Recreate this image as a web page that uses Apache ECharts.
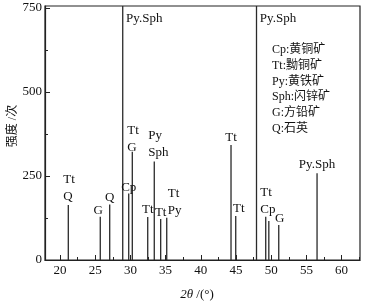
<!DOCTYPE html>
<html>
<head>
<meta charset="utf-8">
<script src="https://cdn.jsdelivr.net/npm/echarts@6/dist/echarts.min.js"></script>
<style>html,body{margin:0;padding:0;background:#fff;}#c{width:368px;height:302px;}</style>
</head>
<body>
<div id="c"></div>
<script>
// ---- data ----
const peakAngles = [21.18, 25.72, 27.06, 28.91, 29.76, 30.27, 32.46, 33.39, 34.30, 35.16, 44.29, 44.96, 47.91, 49.22, 49.66, 51.07, 56.51];
const peakIntensity = [164, 129, 165, 756, 198, 322, 128, 293, 122, 126, 342, 131, 756, 129, 116, 104, 258];
const peakLabels = ['Tt\nQ', 'G', 'Q', 'Py.Sph', 'Cp', 'Tt\nG', 'Tt', 'Py\nSph', 'Tt', 'Tt\nPy', 'Tt', 'Tt', 'Py.Sph', 'Tt\nCp', '', 'G', 'Py.Sph'];
const xMajorTicks = [20, 25, 30, 35, 40, 45, 50, 55, 60];
const xMinorTicks = [22.5, 27.5, 32.5, 37.5, 42.5, 47.5, 52.5, 57.5, 62.5];
const yMajorTicks = [0, 250, 500, 750];
const yMinorTicks = [125, 375, 625];
const legendLines = ['Cp:黄铜矿', 'Tt:黝铜矿', 'Py:黄铁矿', 'Sph:闪锌矿', 'G:方铅矿', 'Q:石英'];
const yName = '强度 /次';
const xNameItalic = '2θ';
const xNameRest = ' /(°)';

// ---- styling (separate from data) ----
const FONT = "'Liberation Serif', 'Noto Sans CJK SC', serif";
const INK = '#222';
// per-label placement tweaks: [offsetX, distance, align, position]
const labelTweaks = [
  [-5, 0, 'left', 'top'],
  [-2, -2, 'center', 'top'],
  [0, -2, 'center', 'top'],
  [0, 4, 'left', 'insideTopLeft'],
  [0, -3, 'center', 'top'],
  [-5, -4, 'left', 'top'],
  [0, -1, 'center', 'top'],
  [-6, 0, 'left', 'top'],
  [0, -2, 'center', 'top'],
  [1, -1.5, 'left', 'top'],
  [0, -1, 'center', 'top'],
  [3, -1.5, 'center', 'top'],
  [0, 4, 'left', 'insideTopLeft'],
  [-5.5, -1, 'left', 'top'],
  [0, 0, 'center', 'top'],
  [1, -2, 'center', 'top'],
  [0, 0, 'center', 'top']
];

const seriesData = peakAngles.map((a, i) => {
  const t = labelTweaks[i];
  return {
    value: [a, peakIntensity[i]],
    label: {
      show: peakLabels[i] !== '',
      formatter: peakLabels[i],
      position: t[3],
      distance: t[1],
      offset: [t[0], 0],
      align: t[2]
    }
  };
});

const chart = echarts.init(document.getElementById('c'), null, {renderer: 'canvas'});
const XMIN = 17.87, XMAX = 62.61, YMIN = 0, YMAX = 756;
const option = {
  animation: false,
  backgroundColor: '#fff',
  grid: {left: 45, right: 8, top: 6, bottom: 42, show: true, borderColor: INK, borderWidth: 1.2, backgroundColor: 'transparent', containLabel: false, outerBoundsMode: 'none'},
  xAxis: [{
    type: 'value', min: XMIN, max: XMAX,
    axisLine: {show: true, onZero: false, lineStyle: {color: INK, width: 1.2}},
    splitLine: {show: false},
    axisTick: {show: true, inside: true, length: 5, customValues: xMajorTicks, lineStyle: {color: INK, width: 1}},
    axisLabel: {customValues: xMajorTicks, fontSize: 13, fontFamily: FONT, color: '#111', margin: 4},
    name: '{i|' + xNameItalic + '}' + xNameRest,
    nameLocation: 'middle', nameGap: 28,
    nameTextStyle: {fontSize: 13, fontFamily: FONT, color: '#111', padding: [0, 11, 0, 0],
      rich: {i: {fontStyle: 'italic', fontSize: 13, fontFamily: FONT, color: '#111'}}}
  }, {
    type: 'value', min: XMIN, max: XMAX, position: 'bottom',
    axisLine: {show: false}, splitLine: {show: false},
    axisTick: {show: true, inside: true, length: 3, customValues: xMinorTicks, lineStyle: {color: INK, width: 1}},
    axisLabel: {show: false}
  }],
  yAxis: [{
    type: 'value', min: YMIN, max: YMAX,
    axisLine: {show: true, onZero: false, lineStyle: {color: INK, width: 1.2}},
    splitLine: {show: false},
    axisTick: {show: true, inside: true, length: 5, customValues: yMajorTicks, lineStyle: {color: INK, width: 1}},
    axisLabel: {customValues: yMajorTicks, fontSize: 13, fontFamily: FONT, color: '#111', margin: 3}
  }, {
    type: 'value', min: YMIN, max: YMAX, position: 'left',
    axisLine: {show: false}, splitLine: {show: false},
    axisTick: {show: true, inside: true, length: 3, customValues: yMinorTicks, lineStyle: {color: INK, width: 1}},
    axisLabel: {show: false}
  }],
  series: [{
    type: 'bar',
    xAxisIndex: 0, yAxisIndex: 0,
    barWidth: 1.3,
    clip: true,
    itemStyle: {color: '#2a2a2a'},
    label: {fontSize: 13, fontFamily: FONT, color: '#111', lineHeight: 17},
    data: seriesData
  }],
  graphic: [{
    type: 'text', left: 272, top: 42,
    style: {text: legendLines.join('\n'), font: "12px " + FONT, fill: '#111', lineHeight: 15.8}
  }, {
    type: 'text', x: 13, y: 126, rotation: Math.PI / 2,
    style: {text: yName, font: "12px " + FONT, fill: '#111', align: 'center', verticalAlign: 'middle'}
  }]
};
chart.setOption(option);
</script>
</body>
</html>
